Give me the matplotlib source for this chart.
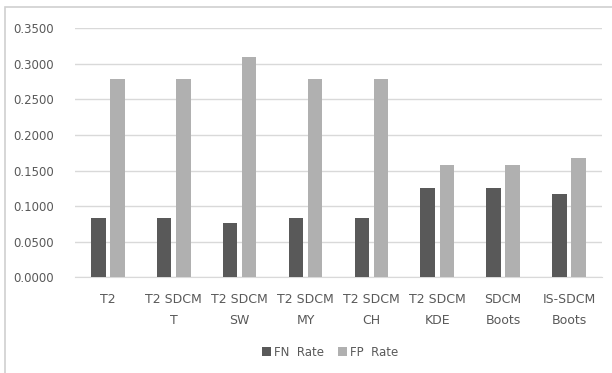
import numpy as np
import matplotlib.pyplot as plt
from matplotlib.patches import Rectangle

# Error rates per method
methods = ["T2", "T2 SDCM\nT", "T2 SDCM\nSW", "T2 SDCM\nMY", "T2 SDCM\nCH",
           "T2 SDCM\nKDE", "SDCM\nBoots", "IS-SDCM\nBoots"]
fn_rate = [0.083, 0.083, 0.076, 0.083, 0.083, 0.126, 0.126, 0.117]
fp_rate = [0.279, 0.279, 0.310, 0.279, 0.279, 0.158, 0.158, 0.167]
yticks = [0.0, 0.05, 0.10, 0.15, 0.20, 0.25, 0.30, 0.35]

text_color = "#595959"

fig = plt.figure(figsize=(6.12, 3.73), dpi=100)
ax = fig.add_axes([0.1225, 0.2566, 0.861, 0.668])

x = np.arange(len(methods))
w = 0.22
ax.bar(x - 0.145, fn_rate, w, color="#595959", label="FN  Rate", zorder=3)
ax.bar(x + 0.145, fp_rate, w, color="#b0b0b0", label="FP  Rate", zorder=3)

ax.set_xlim(-0.5, len(methods) - 0.5)
ax.set_ylim(0, 0.35)
ax.set_yticks(yticks)
ax.set_yticklabels([f"{v:.4f}" for v in yticks])
ax.set_xticks(x)
ax.set_xticklabels(methods, linespacing=1.8)
ax.tick_params(axis="y", length=0, labelsize=8.5, colors=text_color, pad=15)
ax.tick_params(axis="x", length=0, labelsize=9, colors=text_color, pad=11)
ax.yaxis.grid(True, color="#d9d9d9", linewidth=1, zorder=0)
for side in ["top", "right", "left"]:
    ax.spines[side].set_visible(False)
ax.spines["bottom"].set_color("#d9d9d9")

fig.legend(loc="center", bbox_to_anchor=(0.54, 0.056), ncol=2, frameon=False,
           fontsize=8.5, labelcolor=text_color, handlelength=0.7, handleheight=0.7,
           columnspacing=1.2, handletextpad=0.3)

# light outer frame around the chart
fig.add_artist(Rectangle((0.008, -0.01), 1.0, 0.992, transform=fig.transFigure,
                         fill=False, edgecolor="#d0d0d0", linewidth=1.2))

fig.savefig("out.png", dpi=100)
